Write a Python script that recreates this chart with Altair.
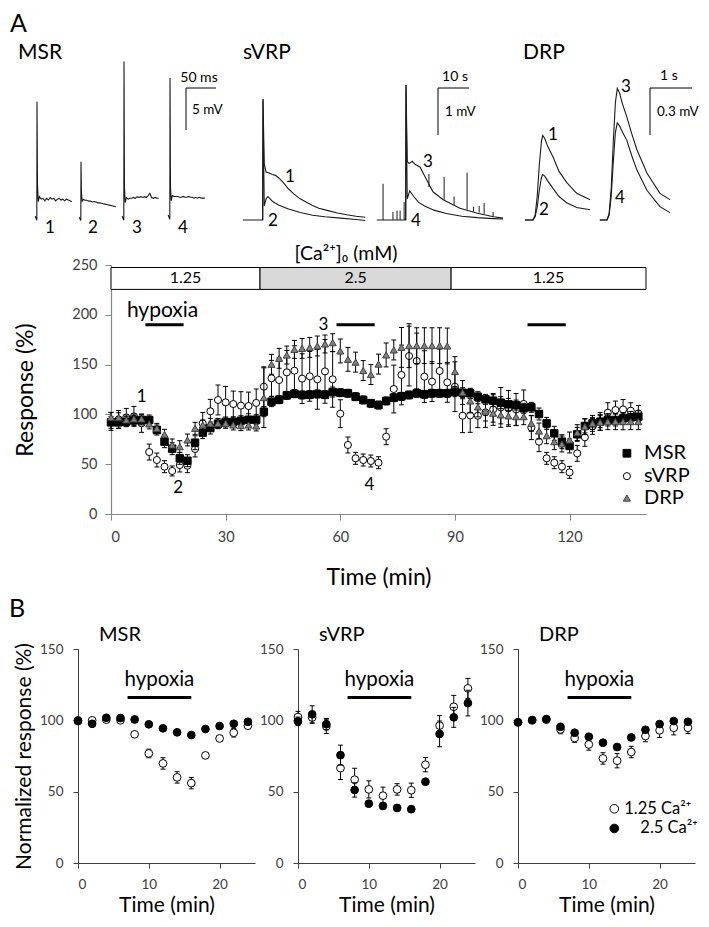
import altair as alt
import pandas as pd

FONT = "Lato"

# ---------------- Panel A: time course (every 2 min) ----------------
time_a = list(range(0, 140, 2))
msr_a = [92, 92, 92.7, 94, 94.4, 94.4, 84.3, 72.6, 65.6, 55.9,
         53.5, 71.6, 81.7, 86.3, 90.7, 92.4, 92.4, 93.7, 94.7, 94.7,
         102.7, 112.8, 114.8, 119.1, 120.8, 119.5, 119.8, 120.5, 119.8, 122.5,
         121.8, 121.2, 117.8, 114.5, 111.1, 109.4, 113.5, 116.8, 118.1, 119.5,
         121.2, 120.1, 121.2, 121.2, 121.2, 122.8, 121.8, 121.2, 117.8, 115.1,
         113.8, 111.8, 110.1, 109.4, 106.1, 107.1, 100.4, 91, 81, 72.6,
         68.3, 80, 88.4, 91, 92.7, 94.4, 94.4, 96, 97, 97.7]
msr_err = [6, 6, 5, 5, 5, 5, 5, 6, 6, 6,
           6, 7, 6, 6, 5, 5, 5, 5, 6, 5,
           5, 5, 4, 4, 4, 4, 4, 4, 4, 5,
           4, 4, 4, 4, 4, 4, 4, 4, 4, 4,
           4, 4, 4, 4, 4, 5, 5, 5, 5, 5,
           6, 6, 6, 5, 5, 5, 6, 6, 7, 7,
           7, 7, 7, 6, 6, 6, 6, 6, 6, 6]
svrp_a = [93, 95, 97, 98, 91, 62.2, 54.2, 47.5, 43.2, 49.2,
          48.5, 65.3, 91, 103.1, 114.5, 112.1, 110.4, 108.8, 108.4, 111.5,
          127.8, 136.2, 134.5, 142.2, 143.9, 135.9, 138.2, 135.2, 143.2, 135.2,
          100.7, 69.3, 55.9, 54.2, 53.2, 51.5, 77.6, 125.5, 139.6, 158.6,
          153.6, 137.9, 132.9, 143.6, 132.2, 127.8, 98.7, 99, 98.7, 102,
          105, 107, 106, 105, 110.5, 86.7, 72.6, 55.9, 51.5, 47.5,
          41.8, 60.9, 77, 88, 93, 101.7, 104.4, 105, 103.7, 101]
svrp_err = [9, 9, 9, 10, 9, 8, 7, 6, 5, 7,
            7, 8, 11, 12, 15, 16, 13, 14, 14, 14,
            20, 18, 22, 22, 25, 25, 25, 30, 32, 28,
            14, 8, 6, 6, 6, 6, 8, 24, 30, 30,
            28, 26, 20, 22, 20, 25, 17, 17, 12, 15,
            16, 20, 18, 16, 14, 12, 10, 6, 6, 6,
            6, 8, 9, 8, 9, 10, 9, 10, 8, 8]
drp_a = [97, 96.7, 94.4, 95.4, 95.4, 90.4, 86, 80, 69.3, 67.6,
         74.3, 86, 89.4, 91, 91, 91, 89.4, 88.7, 89.4, 88.4,
         116.8, 150.3, 156.3, 159.6, 165.3, 166.3, 167.3, 168.7, 170.7, 172,
         163.7, 155.3, 152.5, 144, 140, 150.5, 159.7, 164.7, 167.3, 169,
         169, 169, 169, 169, 168.7, 143, 122, 113.5, 107.5, 103.4,
         101.2, 99.5, 98.5, 97.7, 97.7, 91, 83.3, 78.6, 72.6, 70.3,
         74.3, 81.7, 87.7, 91, 92, 92.7, 92.7, 92.7, 92.7, 92.7]
drp_err = [5, 5, 5, 5, 5, 5, 5, 5, 6, 6,
           6, 6, 5, 5, 5, 5, 5, 5, 5, 5,
           30, 10, 10, 9, 9, 10, 10, 10, 9, 9,
           12, 12, 10, 10, 10, 10, 12, 10, 20, 22,
           18, 18, 18, 18, 18, 15, 12, 12, 10, 10,
           9, 9, 9, 9, 8, 8, 8, 8, 8, 8,
           8, 8, 8, 8, 8, 8, 8, 8, 8, 8]

ca_start = [0, 39, 89]
ca_end = [39, 89, 140]
ca_label = ["1.25", "2.5", "1.25"]
ca_fill = ["white", "#d9d9d9", "white"]
hyp_start_a = [9, 59, 109]
hyp_end_a = [19, 69, 119]
num_label = ["1", "2", "3", "4"]
num_time = [8, 17.6, 55.6, 67.6]
num_val = [117, 26, 190, 29]

# ---------------- Panel B: normalized hypoxia responses ----------------
time_b = list(range(0, 26, 2))
msr_b_low = [100, 100, 100.5, 100, 90.2, 76.8, 69.8, 60, 56, 75.4, 87.3, 91.3, 96.2]
msr_b_low_err = [1, 1, 1, 1, 1.5, 3, 4, 4, 4, 2, 2, 3, 2]
msr_b_high = [99.5, 97.6, 101.8, 101.6, 100.6, 97.2, 94.4, 91.6, 89.7, 93.9, 96, 97.6, 99]
msr_b_high_err = [1] * 13
svrp_b_low = [102.3, 102, 95.8, 66.5, 58.4, 51.6, 47.2, 51.6, 51, 68.9, 96.3, 109.5, 122.4]
svrp_b_low_err = [4, 4, 5, 8, 8, 6, 6, 4, 5, 5, 7, 8, 7]
svrp_b_high = [99.3, 104.2, 97.3, 75.6, 51.2, 41.6, 40, 38.6, 37.7, 57, 90.5, 102.1, 112.1]
svrp_b_high_err = [3, 6, 4, 7, 5, 2, 2, 2, 2, 2, 9, 7, 9]
drp_b_low = [98.6, 100, 100.5, 93.6, 87.6, 83.1, 73.3, 71.7, 77.8, 89, 93, 94.8, 94.8]
drp_b_low_err = [1, 1, 1, 3, 3, 4, 4, 5, 4, 4, 5, 5, 4]
drp_b_high = [98.6, 100.2, 100.9, 95.5, 91.3, 88.5, 84.3, 81.3, 88, 93.4, 97.4, 99.5, 99]
drp_b_high_err = [1] * 13

# ---------------- Example traces (physical units) ----------------
msr_tr_t = [-3, -1, -0.3, 0, 0.8, 2, 4, 7, 10, 13, 16, 19, 22, 25, 28, 31, 34, 37, 40, 43, 46, 49, 52, 55, 58]
msr_tr_1 = [-1.9, -2.3, -2.4, 11.7, 2.0, -0.2, 0.4, 0.1, 0.2, -0.1, 0.2, 0.0, 0.3, 0.1, 0.2, -0.1, 0.1, 0.2, 0.0, 0.1, -0.1, 0.1, 0.0, -0.1, -0.2]
msr_tr_2 = [-1.8, -2.1, -2.2, 4.8, 1.0, 0.1, 0.3, 0.2, 0.2, 0.1, 0.1, 0.0, 0.05, 0.0, -0.1, -0.1, -0.15, -0.2, -0.25, -0.3, -0.35, -0.4, -0.45, -0.5, -0.55]
msr_tr_3 = [-1.9, -2.3, -2.4, 16.5, 1.5, -0.3, 0.3, 0.1, 0.2, 0.2, 0.3, 0.2, 0.4, 0.3, 0.4, 0.3, 0.4, 0.3, 0.5, 0.8, 0.3, 0.2, 0.3, 0.2, 0.2]
msr_tr_4 = [-1.9, -2.3, -2.4, 14.4, 1.5, -0.2, 0.4, 0.3, 0.3, 0.3, 0.2, 0.2, 0.3, 0.2, 0.2, 0.3, 0.2, 0.2, 0.1, 0.2, 0.1, 0.2, 0.1, 0.1, 0.1]
svrp_tr_1_t = [-6.5, -0.1, 0, 0.4, 1.0, 2, 3, 4, 5, 6.5, 8, 10, 12, 14, 16, 18, 21, 24, 27, 30, 33]
svrp_tr_1 = [0, 0, 2.57, 1.2, 1.02, 1.0, 0.97, 0.95, 0.9, 0.8, 0.68, 0.55, 0.45, 0.38, 0.31, 0.25, 0.2, 0.15, 0.11, 0.08, 0.06]
svrp_tr_2_t = [-0.1, 0, 0.4, 1.0, 1.6, 3, 5, 8, 12, 16, 20, 25, 30, 33]
svrp_tr_2 = [0, 2.57, 0.3, 0.45, 0.5, 0.4, 0.32, 0.24, 0.16, 0.1, 0.07, 0.04, 0.01, -0.01]
svrp_tr_3_t = [-9.4, -0.1, 0, 0.4, 1, 2, 3, 4.5, 6.7, 8.7, 12, 17.4, 22.8, 28.2, 31.3]
svrp_tr_3 = [0, 0, 2.87, 1.25, 1.2, 1.25, 1.18, 1.13, 0.85, 0.6, 0.43, 0.25, 0.15, 0.07, 0.04]
svrp_tr_4_t = [-0.1, 0, 0.4, 1.2, 2.5, 4, 6, 9, 13, 18, 23, 28, 31.3]
svrp_tr_4 = [0, 2.87, 0.45, 0.62, 0.5, 0.38, 0.3, 0.21, 0.14, 0.08, 0.05, 0.03, 0.02]
spk_t = [-7.4, -4.2, -2.9, -1.9, -0.6, 7.4, 12.3, 15.5, 19.7, 21.8, 23.6, 25.2, 28.1]
spk_from = [0, 0, 0, 0, 0, 0.7, 0.43, 0.32, 0.22, 0.18, 0.16, 0.13, 0.07]
spk_to = [0.77, 0.17, 0.2, 0.2, 0.38, 0.98, 0.92, 0.5, 1.01, 0.28, 0.3, 0.36, 0.17]
drp_tr_12_t = [-0.19, 0, 0.05, 0.1, 0.15, 0.2, 0.23, 0.28, 0.35, 0.48, 0.62, 0.8, 1.04, 1.36]
drp_tr_1 = [0, 0, 0.03, 0.15, 0.35, 0.5, 0.54, 0.52, 0.47, 0.4, 0.31, 0.24, 0.17, 0.13]
drp_tr_2 = [0, 0, 0.02, 0.08, 0.19, 0.27, 0.29, 0.28, 0.25, 0.2, 0.15, 0.11, 0.08, 0.065]
drp_tr_34_t = [-0.17, 0, 0.05, 0.1, 0.15, 0.2, 0.245, 0.3, 0.37, 0.47, 0.59, 0.71, 0.95, 1.26, 1.5]
drp_tr_3 = [0, 0, 0.04, 0.2, 0.5, 0.75, 0.84, 0.81, 0.74, 0.66, 0.55, 0.45, 0.3, 0.17, 0.13]
drp_tr_4 = [0, 0, 0.03, 0.15, 0.37, 0.56, 0.62, 0.6, 0.56, 0.51, 0.41, 0.32, 0.19, 0.085, 0.047]

# ======================= Row 1: traces =======================
MSR_SX, MSR_SY = 30 / 50.0, 42 / 5.0
SV_SX, SV_SY = 31 / 10.0, 47 / 1.0
DR_SX, DR_SY = 42 / 1.0, 47 / 0.3


def place(name, t, v, x0, y0, sx, sy):
    return pd.DataFrame({"trace": name, "i": list(range(len(t))),
                         "px": [x0 + a * sx for a in t],
                         "py": [y0 - b * sy for b in v]})


df_tr = pd.concat([
    place("m1", msr_tr_t, msr_tr_1, 37, 200, MSR_SX, MSR_SY),
    place("m2", msr_tr_t, msr_tr_2, 81, 202, MSR_SX, MSR_SY),
    place("m3", msr_tr_t, msr_tr_3, 124, 200, MSR_SX, MSR_SY),
    place("m4", msr_tr_t, msr_tr_4, 170, 199, MSR_SX, MSR_SY),
    place("s1", svrp_tr_1_t, svrp_tr_1, 263, 220, SV_SX, SV_SY),
    place("s2", svrp_tr_2_t, svrp_tr_2, 263, 220, SV_SX, SV_SY),
    place("s3", svrp_tr_3_t, svrp_tr_3, 406, 220, SV_SX, SV_SY),
    place("s4", svrp_tr_4_t, svrp_tr_4, 406, 220, SV_SX, SV_SY),
    place("d1", drp_tr_12_t, drp_tr_1, 533, 220, DR_SX, DR_SY),
    place("d2", drp_tr_12_t, drp_tr_2, 533, 220, DR_SX, DR_SY),
    place("d3", drp_tr_34_t, drp_tr_3, 607, 220, DR_SX, DR_SY),
    place("d4", drp_tr_34_t, drp_tr_4, 607, 220, DR_SX, DR_SY),
], ignore_index=True)
df_spk = pd.DataFrame({"px": [406 + a * SV_SX for a in spk_t],
                       "py": [220 - b * SV_SY for b in spk_from],
                       "py2": [220 - b * SV_SY for b in spk_to]})
bars = []
for cx, cy, hlen, vlen in [(186, 88, 50 * MSR_SX, 5 * MSR_SY),
                           (438, 88, 10 * SV_SX, 1 * SV_SY),
                           (650, 88, 1 * DR_SX, 0.3 * DR_SY)]:
    bars.append({"x": cx, "x2": cx + hlen, "y": cy, "y2": cy})
    bars.append({"x": cx, "x2": cx, "y": cy, "y2": cy + vlen})
df_bars = pd.DataFrame(bars)

PX = alt.Scale(domain=[8, 701], nice=False, zero=False)
PY = alt.Scale(domain=[8, 240], nice=False, zero=False, reverse=True)


def ptext(rows, size, align="center"):
    d = pd.DataFrame(rows, columns=["txt", "px", "py"])
    return alt.Chart(d).mark_text(fontSize=size, align=align, baseline="middle",
                                  color="black", font=FONT).encode(
        x=alt.X("px:Q", scale=PX, axis=None),
        y=alt.Y("py:Q", scale=PY, axis=None),
        text="txt:N")


trace_lines = alt.Chart(df_tr).mark_line(color="#1a1a1a", strokeWidth=1.1).encode(
    x=alt.X("px:Q", scale=PX, axis=None),
    y=alt.Y("py:Q", scale=PY, axis=None),
    detail="trace:N", order="i:Q")
spikes = alt.Chart(df_spk).mark_rule(color="#1a1a1a", strokeWidth=1).encode(
    x=alt.X("px:Q", scale=PX, axis=None),
    y=alt.Y("py:Q", scale=PY, axis=None), y2="py2:Q")
scalebars = alt.Chart(df_bars).mark_rule(color="black", strokeWidth=1).encode(
    x=alt.X("x:Q", scale=PX, axis=None), x2="x2:Q",
    y=alt.Y("y:Q", scale=PY, axis=None), y2="y2:Q")

row1 = alt.layer(
    trace_lines, spikes, scalebars,
    ptext([("A", 10, 24)], 25, align="left"),
    ptext([("MSR", 18, 53), ("sVRP", 243, 53), ("DRP", 523, 53)], 21, align="left"),
    ptext([("1", 50, 228), ("2", 93, 228), ("3", 137, 228), ("4", 183, 228),
           ("1", 290, 177), ("2", 273, 221), ("3", 428, 162), ("4", 416, 221),
           ("1", 553, 135), ("2", 544, 210), ("3", 626, 87), ("4", 620, 198)], 17),
    ptext([("50 ms", 199, 78), ("10 s", 455, 77), ("1 s", 669, 76)], 14),
    ptext([("5 mV", 192, 110), ("1 mV", 445, 112), ("0.3 mV", 657, 112)], 13.5, align="left"),
).properties(width=693, height=232)

# ======================= shared helpers =======================


def spacer():
    return alt.Chart(pd.DataFrame({"a": [0]})).mark_rect(opacity=0).encode(
        x=alt.value(0), x2=alt.value(1), y=alt.value(0), y2=alt.value(1)
    ).properties(width=1, height=1)


def errbars(df, xs, ys, xa, ya, cap=5):
    base = alt.Chart(df)
    rule = base.mark_rule(color="black", strokeWidth=1).encode(
        x=alt.X("time:Q", scale=xs, axis=xa),
        y=alt.Y("lo:Q", scale=ys, axis=ya), y2="hi:Q")
    caps = [base.mark_tick(color="black", orient="horizontal", size=cap, thickness=1, opacity=1).encode(
        x=alt.X("time:Q", scale=xs, axis=xa),
        y=alt.Y(f"{f}:Q", scale=ys, axis=ya)) for f in ("lo", "hi")]
    return [rule] + caps


def points(df, xs, ys, xa, ya, shape, fill, stroke, size, xf="time", yf="value"):
    return alt.Chart(df).mark_point(shape=shape, filled=True, fill=fill, stroke=stroke,
                                    strokeWidth=1, size=size, opacity=1).encode(
        x=alt.X(f"{xf}:Q", scale=xs, axis=xa),
        y=alt.Y(f"{yf}:Q", scale=ys, axis=ya))


def dtext(d, xs, ys, xa, ya, size, align="center", xf="x", yf="y"):
    return alt.Chart(d).mark_text(fontSize=size, align=align, baseline="middle",
                                  color="black", font=FONT).encode(
        x=alt.X(f"{xf}:Q", scale=xs, axis=xa),
        y=alt.Y(f"{yf}:Q", scale=ys, axis=ya),
        text="txt:N")


def with_err(vals, errs, times):
    return pd.DataFrame({"time": times, "value": vals,
                         "lo": [v - e for v, e in zip(vals, errs)],
                         "hi": [v + e for v, e in zip(vals, errs)]})


# ======================= Row 2: time course =======================
XS = alt.Scale(domain=[0, 140], nice=False, zero=False)
YS = alt.Scale(domain=[0, 250], nice=False, zero=False)
XA = alt.Axis(values=[0, 30, 60, 90, 120], title="Time (min)", grid=False,
              domainColor="#868686", tickColor="#868686", domainWidth=1.2, tickSize=6,
              labelFontSize=14.5, labelColor="#404040", labelPadding=10, labelFont=FONT,
              titleFontSize=23, titleFontWeight="normal", titleFont=FONT, titleColor="black",
              titlePadding=23)
YA = alt.Axis(values=[0, 50, 100, 150, 200, 250], title="Response (%)", grid=False,
              domainColor="#868686", tickColor="#868686", domainWidth=1.2, tickSize=6,
              labelFontSize=14.5, labelColor="#404040", labelPadding=8, labelFont=FONT,
              titleFontSize=23, titleFontWeight="normal", titleFont=FONT, titleColor="black",
              titlePadding=34)

df_msr = with_err(msr_a, msr_err, time_a)
df_svrp = with_err(svrp_a, svrp_err, time_a)
df_drp = with_err(drp_a, drp_err, time_a)

bound2 = alt.Chart(df_msr).mark_rule(opacity=0).encode(
    x=alt.value(-102), y=alt.value(-25), y2=alt.value(329))

df_ca = pd.DataFrame({"s": ca_start, "e": ca_end, "txt": ca_label, "fill": ca_fill,
                      "y0": [225.5] * 3, "y1": [247.5] * 3,
                      "x": [(a + b) / 2 for a, b in zip(ca_start, ca_end)], "y": [236.5] * 3})
ca_rect = alt.Chart(df_ca).mark_rect(stroke="black", strokeWidth=1).encode(
    x=alt.X("s:Q", scale=XS, axis=XA), x2="e:Q",
    y=alt.Y("y0:Q", scale=YS, axis=YA), y2="y1:Q",
    fill=alt.Fill("fill:N", scale=None))
ca_text = dtext(df_ca, XS, YS, XA, YA, 16)
ca_title = dtext(pd.DataFrame({"txt": ["[Ca²⁺]₀ (mM)"], "x": [61.5], "y": [261]}), XS, YS, XA, YA, 19.5)

df_hyp = pd.DataFrame({"s": hyp_start_a, "e": hyp_end_a, "y": [190] * 3})
hyp_rules = alt.Chart(df_hyp).mark_rule(color="black", strokeWidth=3).encode(
    x=alt.X("s:Q", scale=XS, axis=XA), x2="e:Q",
    y=alt.Y("y:Q", scale=YS, axis=YA))
hyp_text = dtext(pd.DataFrame({"txt": ["hypoxia"], "x": [13.5], "y": [204]}), XS, YS, XA, YA, 21)
nums = dtext(pd.DataFrame({"txt": num_label, "x": num_time, "y": num_val}), XS, YS, XA, YA, 17)

df_leg = pd.DataFrame({"x": [135] * 3, "y": [61, 38, 16], "tx": [139.5] * 3,
                       "txt": ["MSR", "sVRP", "DRP"]})
leg_sq = points(df_leg.iloc[[0]], XS, YS, XA, YA, "square", "black", "black", 60, "x", "y")
leg_ci = points(df_leg.iloc[[1]], XS, YS, XA, YA, "circle", "white", "black", 50, "x", "y")
leg_tr = points(df_leg.iloc[[2]], XS, YS, XA, YA, "triangle-up", "#808080", "#404040", 50, "x", "y")
leg_txt = dtext(df_leg, XS, YS, XA, YA, 20, align="left", xf="tx")

main_chart = alt.layer(
    ca_rect, bound2, ca_text, ca_title, hyp_rules, hyp_text, nums,
    *errbars(df_svrp, XS, YS, XA, YA),
    points(df_svrp, XS, YS, XA, YA, "circle", "white", "black", 50),
    *errbars(df_msr, XS, YS, XA, YA),
    points(df_msr, XS, YS, XA, YA, "square", "black", "black", 55),
    *errbars(df_drp, XS, YS, XA, YA),
    points(df_drp, XS, YS, XA, YA, "triangle-up", "#808080", "#404040", 50),
    leg_sq, leg_ci, leg_tr, leg_txt,
).properties(width=535, height=249)

row2 = alt.concat(spacer(), main_chart, spacing=0, align="none")

# ======================= Row 3: panel B =======================
BX = alt.Scale(domain=[0, 25], nice=False, zero=False)
BY = alt.Scale(domain=[0, 150], nice=False, zero=False)


def b_panel(name, lo_v, lo_e, hi_v, hi_e, left, first=False, legend=False):
    d_open = with_err(lo_v, lo_e, time_b)
    d_fill = with_err(hi_v, hi_e, time_b)
    bxa = alt.Axis(values=[0, 10, 20], title="Time (min)", grid=False,
                   domainColor="#404040", tickColor="#404040", tickSize=5,
                   labelFontSize=13.5, labelColor="#404040", labelPadding=9, labelFont=FONT,
                   titleFontSize=21, titleFontWeight="normal", titleFont=FONT, titleColor="black",
                   titlePadding=4)
    bya = alt.Axis(values=[0, 50, 100, 150], title=("Normalized response (%)" if first else None),
                   grid=False, domainColor="#404040", tickColor="#404040", tickSize=5,
                   labelFontSize=13.5, labelColor="#404040", labelPadding=10, labelFont=FONT,
                   titleFontSize=21, titleFontWeight="normal", titleFont=FONT, titleColor="black",
                   titlePadding=5)
    bound = alt.Chart(d_open).mark_rule(opacity=0).encode(
        x=alt.value(-left), y=alt.value(-55), y2=alt.value(214))
    hyp = alt.Chart(pd.DataFrame({"s": [7], "e": [16], "y": [116]})).mark_rule(
        color="black", strokeWidth=3).encode(
        x=alt.X("s:Q", scale=BX, axis=bxa), x2="e:Q", y=alt.Y("y:Q", scale=BY, axis=bya))
    hyp_t = dtext(pd.DataFrame({"txt": ["hypoxia"], "x": [11.5], "y": [128]}), BX, BY, bxa, bya, 20.5)
    title = alt.Chart(pd.DataFrame({"txt": [name]})).mark_text(
        fontSize=20, align="left", baseline="middle", font=FONT, color="black").encode(
        x=alt.value(21), y=alt.value(-14), text="txt:N")
    layers = [hyp, bound, hyp_t, title,
              *errbars(d_open, BX, BY, bxa, bya, cap=5),
              points(d_open, BX, BY, bxa, bya, "circle", "white", "black", 60),
              *errbars(d_fill, BX, BY, bxa, bya, cap=5),
              points(d_fill, BX, BY, bxa, bya, "circle", "black", "black", 60)]
    if first:
        layers.append(alt.Chart(pd.DataFrame({"txt": ["B"]})).mark_text(
            fontSize=25, align="left", baseline="middle", font=FONT, color="black").encode(
            x=alt.value(-left), y=alt.value(-40), text="txt:N"))
    if legend:
        dl = pd.DataFrame({"x": [13.6, 13.6], "y": [38.0, 24.2]})
        layers.append(points(dl.iloc[[0]], BX, BY, bxa, bya, "circle", "white", "black", 75, "x", "y"))
        layers.append(points(dl.iloc[[1]], BX, BY, bxa, bya, "circle", "black", "black", 75, "x", "y"))
        layers.append(dtext(pd.DataFrame({"txt": ["1.25 Ca²⁺"], "x": [15.0], "y": [38.0]}),
                            BX, BY, bxa, bya, 16.5, align="left"))
        layers.append(dtext(pd.DataFrame({"txt": ["2.5 Ca²⁺"], "x": [25.4], "y": [24.2]}),
                            BX, BY, bxa, bya, 16.5, align="right"))
    return alt.layer(*layers).properties(width=177, height=214)


row3 = alt.concat(
    spacer(),
    b_panel("MSR", msr_b_low, msr_b_low_err, msr_b_high, msr_b_high_err, 69, first=True),
    b_panel("sVRP", svrp_b_low, svrp_b_low_err, svrp_b_high, svrp_b_high_err, 43),
    b_panel("DRP", drp_b_low, drp_b_low_err, drp_b_high, drp_b_high_err, 43, legend=True),
    spacing=0, align="none")

chart = alt.concat(row1, row2, row3, columns=1, spacing=0, padding=0, align="none").configure(
    font=FONT).configure_view(stroke=None)

chart.save("out.html", embed_options={"renderer": "svg", "actions": False})
